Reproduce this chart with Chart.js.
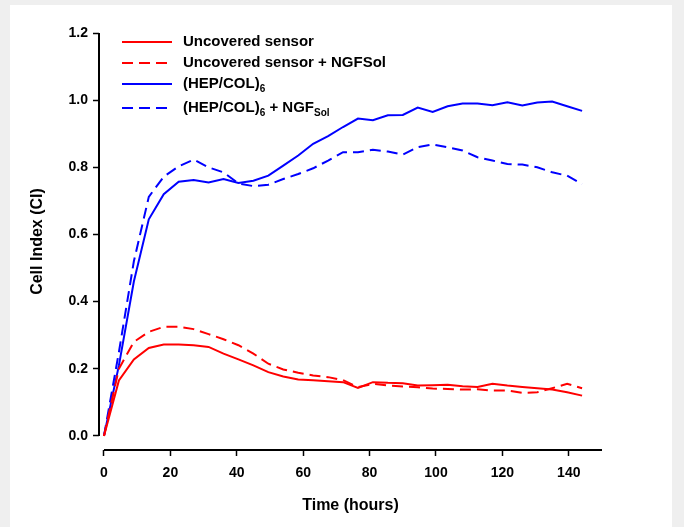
<!DOCTYPE html>
<html>
<head>
<meta charset="utf-8">
<script src="https://cdn.jsdelivr.net/npm/chart.js@4.4.1/dist/chart.umd.min.js"></script>
<style>
  html, body { margin: 0; padding: 0; background: #efefef; }
  #wrap { position: relative; width: 684px; height: 527px; overflow: hidden; }
  #panel { position: absolute; left: 10px; top: 5px; width: 662px; height: 522px; background: #fff; }
  #chart { position: absolute; left: 0; top: 0; }
  #legend { position: absolute; left: 122px; top: 0; font: bold 15px "Liberation Sans", Arial, sans-serif; color: #000; }
  .row { position: absolute; left: 0; height: 20px; white-space: nowrap; }
  .row svg { position: absolute; left: 0; top: 9px; }
  .row span { position: absolute; left: 61px; top: 1px; }
  sub { font-size: 10px; vertical-align: -4px; line-height: 0; }
</style>
</head>
<body>
<div id="wrap">
  <div id="panel"></div>
  <canvas id="chart" width="684" height="527"></canvas>
  <div id="legend"></div>
</div>
<script>
// time points (hours)
const times = [0, 4.5, 9, 13.5, 18, 22.5, 27, 31.5, 36, 40.5, 45, 49.5, 54, 58.5, 63, 67.5, 72,
  76.5, 81, 85.5, 90, 94.5, 99, 103.5, 108, 112.5, 117, 121.5, 126, 130.5, 135, 139.5, 144];

// cell index series
const uncovered = [0, 0.165, 0.228, 0.262, 0.272, 0.272, 0.27, 0.265, 0.245, 0.228, 0.21, 0.19, 0.177,
  0.168, 0.166, 0.163, 0.16, 0.143, 0.16, 0.158, 0.157, 0.15, 0.151, 0.152, 0.148, 0.146, 0.155,
  0.15, 0.146, 0.142, 0.138, 0.13, 0.12];
const uncoveredNgf = [0, 0.2, 0.28, 0.31, 0.325, 0.325, 0.318, 0.303, 0.288, 0.27, 0.245, 0.215, 0.198,
  0.188, 0.18, 0.175, 0.166, 0.145, 0.155, 0.15, 0.147, 0.145, 0.141, 0.14, 0.138, 0.139, 0.135,
  0.135, 0.128, 0.13, 0.142, 0.155, 0.142];
const hepCol = [0, 0.21, 0.46, 0.645, 0.72, 0.757, 0.762, 0.755, 0.765, 0.753, 0.76, 0.775, 0.805,
  0.835, 0.87, 0.893, 0.92, 0.945, 0.94, 0.955, 0.956, 0.978, 0.965, 0.982, 0.99, 0.99,
  0.985, 0.994, 0.984, 0.993, 0.996, 0.982, 0.968];
const hepColNgf = [0, 0.25, 0.52, 0.712, 0.772, 0.803, 0.823, 0.8, 0.785, 0.752, 0.744, 0.748, 0.765,
  0.78, 0.797, 0.82, 0.845, 0.845, 0.852, 0.847, 0.838, 0.86, 0.868, 0.86, 0.85, 0.83, 0.82,
  0.81, 0.808, 0.8, 0.785, 0.775, 0.75];

const seriesNames = ['Uncovered sensor', 'Uncovered sensor + NGFSol', '(HEP/COL)6', '(HEP/COL)6 + NGFSol'];
const legendLabels = ['Uncovered sensor', 'Uncovered sensor + NGFSol', '(HEP/COL)<sub>6</sub>',
  '(HEP/COL)<sub>6</sub> + NGF<sub>Sol</sub>'];

const xTicks = [0, 20, 40, 60, 80, 100, 120, 140];
const yTicks = [0, 0.2, 0.4, 0.6, 0.8, 1.0, 1.2];

const FONT = '"Liberation Sans", Arial, sans-serif';
const pts = arr => arr.map((v, i) => ({x: times[i], y: v}));

const styles = [
  {color: '#ff0000', dash: []},
  {color: '#ff0000', dash: [11, 6]},
  {color: '#0000ff', dash: []},
  {color: '#0000ff', dash: [11, 6]}
];
const series = [uncovered, uncoveredNgf, hepCol, hepColNgf];

// SigmaPlot-like detached axes
const axisLines = {
  id: 'axisLines',
  afterDraw(chart) {
    const {ctx, chartArea, scales: {x, y}} = chart;
    ctx.save();
    ctx.strokeStyle = '#000';
    ctx.lineWidth = 2;
    ctx.beginPath();
    ctx.moveTo(chartArea.left, y.getPixelForValue(0));
    ctx.lineTo(chartArea.left, y.getPixelForValue(1.2));
    ctx.moveTo(x.getPixelForValue(0), chartArea.bottom);
    ctx.lineTo(x.getPixelForValue(150), chartArea.bottom);
    ctx.stroke();
    ctx.restore();
  }
};

new Chart(document.getElementById('chart'), {
  type: 'line',
  data: {
    datasets: series.map((s, i) => ({
      label: seriesNames[i],
      data: pts(s),
      borderColor: styles[i].color,
      borderDash: styles[i].dash,
      borderWidth: 2,
      pointRadius: 0,
      tension: 0,
      fill: false
    }))
  },
  options: {
    responsive: false,
    animation: false,
    devicePixelRatio: 1,
    layout: {padding: {top: 33, right: 82, left: 0, bottom: 0}},
    plugins: {legend: {display: false}, tooltip: {enabled: false}},
    scales: {
      x: {
        type: 'linear',
        min: -1.5,
        max: 150,
        afterBuildTicks: s => { s.ticks = xTicks.map(v => ({value: v})); },
        afterFit: s => { s.height = 77; },
        border: {display: false},
        grid: {drawOnChartArea: false, drawTicks: true, tickLength: 6, tickColor: '#000', tickWidth: 1.5},
        ticks: {color: '#000', padding: 9, maxRotation: 0, font: {family: FONT, size: 14, weight: 'bold'}},
        title: {display: true, text: 'Time (hours)', color: '#000', padding: {top: 0, bottom: 12},
          font: {family: FONT, size: 16, weight: 'bold'}}
      },
      y: {
        min: -0.042,
        max: 1.2,
        afterBuildTicks: s => { s.ticks = yTicks.map(v => ({value: v})); },
        afterFit: s => { s.width = 99; },
        border: {display: false},
        grid: {drawOnChartArea: false, drawTicks: true, tickLength: 6, tickColor: '#000', tickWidth: 1.5},
        ticks: {color: '#000', padding: 5, callback: v => v.toFixed(1),
          font: {family: FONT, size: 14, weight: 'bold'}},
        title: {display: true, text: 'Cell Index (CI)', color: '#000', padding: {top: 28, bottom: 0},
          font: {family: FONT, size: 16, weight: 'bold'}}
      }
    }
  },
  plugins: [axisLines]
});

// legend with subscripts
const rowCenters = [41, 62, 83, 107];
const legend = document.getElementById('legend');
legendLabels.forEach((lab, i) => {
  const row = document.createElement('div');
  row.className = 'row';
  row.style.top = (rowCenters[i] - 10) + 'px';
  const dash = styles[i].dash.length ? `stroke-dasharray="${styles[i].dash.join(' ')}"` : '';
  row.innerHTML = `<svg width="50" height="4"><line x1="0" y1="2" x2="50" y2="2" stroke="${styles[i].color}" stroke-width="2" ${dash}/></svg><span>${lab}</span>`;
  legend.appendChild(row);
});
</script>
</body>
</html>
